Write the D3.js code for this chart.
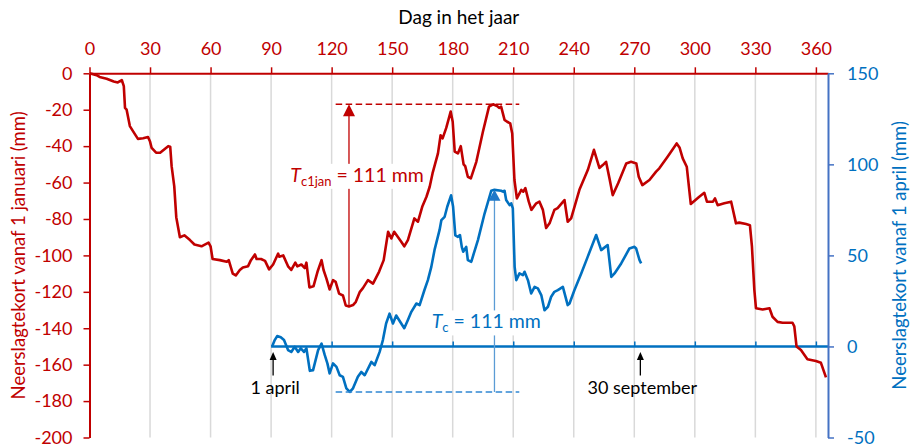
<!DOCTYPE html>
<html>
<head>
<meta charset="utf-8">
<script src="https://cdn.jsdelivr.net/npm/d3@7"></script>
<style>
  body { margin: 0; background: #fff; }
  svg { display: block; font-family: Lato, "Open Sans", sans-serif; }
</style>
</head>
<body>
<svg id="chart" width="912" height="447"></svg>
<script>
// Axis ticks
const xTicks = [0, 30, 60, 90, 120, 150, 180, 210, 240, 270, 300, 330, 360];
const leftTicks = [0, -20, -40, -60, -80, -100, -120, -140, -160, -180, -200];
const rightTicks = [150, 100, 50, 0, -50];

// Cumulative precipitation deficit since 1 January (mm), by day of year
const redDays = [0, 3.5, 5, 8.5, 12, 14, 16, 17, 17.6, 18.4, 20, 21.7, 24, 26.6, 29, 30, 30.8, 33, 35, 39, 40, 40.7, 42, 43, 44.8, 47, 49.8, 52, 55.5, 59, 60, 61, 64.6, 68, 69, 71, 72.5, 74.5, 76, 78.6, 80, 82, 82.8, 85, 87, 89, 91, 93.5, 94, 96, 98.4, 100, 102, 103, 105, 106.7, 107.5, 109, 111, 113, 115, 116, 117.4, 119, 120.7, 122, 123.7, 125.6, 127, 128.6, 130.6, 132, 134, 135.5, 138, 140.5, 143.5, 145.8, 148, 149.6, 151, 154.5, 156, 157.8, 161, 162.8, 165, 167, 168.6, 170, 172.7, 174, 175, 176.8, 179, 180, 181, 182.6, 184, 185.4, 186.2, 187.5, 189, 191.7, 195, 198, 200, 202, 203, 204, 205.7, 207, 208.5, 209.5, 210.6, 211.8, 214, 215, 216, 217.7, 219, 221.4, 223, 224.7, 226.3, 228, 230.4, 232, 234, 235.4, 237, 238.7, 242.8, 247, 250, 252.7, 254.4, 256, 257.7, 259.3, 262, 266, 268.4, 271, 272.2, 274, 277.5, 280.8, 282.4, 286.5, 289.9, 291, 292.4, 294, 296, 298, 302.2, 304.7, 306, 309, 310, 311.3, 314.6, 318, 320.4, 322, 325.4, 327.3, 328.3, 329.5, 330.3, 333.6, 337, 338.5, 341, 343.5, 348.4, 349.3, 350.4, 352.6, 355.8, 360, 362.5, 365];
const redVals = [0, -1, -2, -3, -4.5, -5, -3.7, -7, -19, -20, -29, -32, -36, -35.7, -35, -37.5, -41, -43.6, -43.6, -40, -40.3, -51, -62, -79, -90, -89, -91.6, -94, -95, -93, -95, -102, -102.6, -103.5, -102.6, -110, -111, -108, -106.6, -105.9, -102.6, -99.5, -102, -102, -103, -107.7, -105, -99, -100.7, -100, -106, -108, -104, -106, -105, -107, -104, -117.6, -117, -109, -102.6, -108, -112.6, -118.7, -113.6, -114.5, -121, -122, -127.5, -128, -127.3, -125.5, -120, -118, -113.6, -115.5, -109, -102.6, -87, -90.7, -87, -92.5, -95, -91.6, -79.7, -81.5, -73, -67.8, -62.3, -55, -44, -34, -35.7, -30, -21, -26.6, -43, -44, -40, -50, -51, -56.8, -57.7, -48.6, -32, -18.3, -17, -18, -19, -18.3, -25.6, -26.6, -27.5, -33, -58.6, -68.7, -64, -65, -63, -70.5, -75, -71.4, -70.5, -75, -85, -82.4, -75, -74, -71.4, -69.6, -81.5, -79.7, -64, -53, -42, -52, -50.4, -48.6, -57.7, -66.9, -60.4, -49.5, -48.6, -49.5, -56.8, -61.4, -58.6, -54, -52.2, -45.8, -40.3, -38.5, -40.7, -46.7, -51.3, -71.8, -67.8, -65.6, -70.5, -70.5, -68.7, -72.4, -71.4, -70.5, -82.4, -82, -82.8, -83.4, -95, -119, -129, -129.7, -129, -133.7, -136.5, -137, -137, -139, -150, -152, -157, -158, -159, -167];

// Cumulative precipitation deficit since 1 April (mm), by day of year
const blueDays = [90.5, 91.8, 93, 94.8, 96.4, 98.4, 100, 101.7, 103.4, 104.7, 106.3, 107.5, 109.2, 110.8, 113.3, 115, 116.6, 117.9, 119, 120.7, 122.4, 124, 125.6, 127.3, 129, 130.6, 133, 134.7, 136.4, 139.7, 141.3, 143.8, 145.4, 147, 148.7, 150.4, 152, 154.5, 156, 157.8, 159.5, 162, 163.6, 166, 167.7, 169.4, 171, 173.5, 174.4, 176, 177.3, 179.2, 180.2, 181.3, 182.6, 183.6, 184.5, 185.2, 186.7, 187.5, 189.2, 192.5, 195.8, 199.1, 200.7, 204, 204.9, 205.7, 206.5, 208.2, 209, 209.8, 210.7, 211.5, 213.1, 214.8, 215.6, 217.3, 218.9, 220.6, 222.2, 223.9, 225.5, 227.2, 228.8, 230.4, 232.1, 234.6, 237, 237.9, 240.3, 243.7, 246.9, 251.1, 253.6, 256.8, 258.6, 260.2, 263.5, 267.6, 270.1, 270.9, 272.6, 273.4];
const blueVals = [0, 3.5, 5.7, 5, 3.5, -2, -3, -0.2, -3, -1, -3, -1, -13.4, -13, -2, 1.6, -4.8, -9.3, -14.8, -9.3, -11.2, -15.8, -16.7, -23, -25, -23, -16.7, -14, -15.8, -8.5, -10.3, -3, 3.5, 12.6, 18, 12.6, 17, 12.6, 10, 14.5, 19, 23.6, 22.7, 31, 36.4, 43.7, 53, 64, 69.4, 71.2, 76.7, 83, 76.7, 61, 60.2, 61.2, 54.7, 52, 54.7, 47.4, 46.5, 58.4, 73, 85.5, 86, 85.5, 85, 85.5, 80.4, 77.6, 78.6, 75.8, 43.7, 36.4, 40.1, 39.2, 41, 36.4, 29.1, 32.7, 31.9, 28.2, 19.9, 21.8, 27.3, 30, 30.9, 32.7, 22.7, 23.6, 30.9, 40.1, 49.2, 61.2, 52.9, 55.7, 38.2, 40.1, 45.6, 53.8, 54.7, 53.8, 47.4, 45.6];

// Growing season window (days of year)
const startApril = 91;     // 1 april
const endSeptember = 273;  // 30 september
const spanFrom = 122, spanTo = 213;

const RED = "#C00000", BLUE = "#0070C0", AXISBLUE = "#4472C4", GRID = "#d9d9d9";

const svg = d3.select("#chart");
const plot = { left: 89.5, right: 828, top: 73.3, bottom: 437.5 };

const x = d3.scaleLinear().domain([0, 366]).range([plot.left, plot.right]);
const yL = d3.scaleLinear().domain([-200, 0]).range([plot.bottom, plot.top]);
const yR = d3.scaleLinear().domain([-50, 150]).range([plot.bottom, plot.top]);

const red = redDays.map((d, i) => ({ day: d, val: redVals[i] }));
const blue = blueDays.map((d, i) => ({ day: d, val: blueVals[i] }));

// vertical gridlines
svg.append("g").selectAll("line")
  .data(xTicks.filter(t => t > 0))
  .join("line")
  .attr("x1", d => x(d)).attr("x2", d => x(d))
  .attr("y1", plot.top).attr("y2", plot.bottom)
  .attr("stroke", GRID).attr("stroke-width", 1.5);

// zero line of the April series, with its own tick marks
const zeroY = yR(0);
svg.append("line")
  .attr("x1", x(90)).attr("x2", plot.right)
  .attr("y1", zeroY).attr("y2", zeroY)
  .attr("stroke", BLUE).attr("stroke-width", 2.5);
const zeroAxis = svg.append("g")
  .attr("transform", `translate(0,${zeroY})`)
  .call(d3.axisTop(x).tickValues(xTicks.filter(t => t >= 120)).tickSize(5).tickFormat(""));
zeroAxis.select(".domain").remove();
zeroAxis.selectAll(".tick line").attr("stroke", BLUE).attr("stroke-width", 1.5);

// series
const lineL = d3.line().x(d => x(d.day)).y(d => yL(d.val));
const lineR = d3.line().x(d => x(d.day)).y(d => yR(d.val));
svg.append("path").datum(red).attr("d", lineL)
  .attr("fill", "none").attr("stroke", RED).attr("stroke-width", 2.6).attr("stroke-linejoin", "round");
svg.append("path").datum(blue).attr("d", lineR)
  .attr("fill", "none").attr("stroke", BLUE).attr("stroke-width", 2.6).attr("stroke-linejoin", "round");

// largest rise within the season
const season = red.filter(d => d.day >= startApril && d.day <= endSeptember);
const redMinPt = season.reduce((a, b) => (b.val < a.val ? b : a));
const redMaxPt = season.reduce((a, b) => (b.val > a.val ? b : a));
const blueMinPt = blue.reduce((a, b) => (b.val < a.val ? b : a));
const blueMaxPt = blue.reduce((a, b) => (b.val > a.val ? b : a));

function arrowHead(g, cx, tipY, color, w, h) {
  g.append("path")
    .attr("d", `M${cx},${tipY} L${cx - w / 2},${tipY + h} L${cx + w / 2},${tipY + h} Z`)
    .attr("fill", color);
}

const ann = svg.append("g");
// red span
ann.append("line")
  .attr("x1", x(spanFrom)).attr("x2", x(spanTo))
  .attr("y1", yL(redMaxPt.val)).attr("y2", yL(redMaxPt.val))
  .attr("stroke", RED).attr("stroke-width", 1.5).attr("stroke-dasharray", "6.5,3.5");
ann.append("line")
  .attr("x1", x(redMinPt.day)).attr("x2", x(redMinPt.day))
  .attr("y1", yL(redMinPt.val)).attr("y2", yL(redMaxPt.val) + 10)
  .attr("stroke", RED).attr("stroke-width", 1.3);
arrowHead(ann, x(redMinPt.day), yL(redMaxPt.val), RED, 12, 12);

// blue span
ann.append("line")
  .attr("x1", x(spanFrom)).attr("x2", x(spanTo))
  .attr("y1", yR(blueMinPt.val)).attr("y2", yR(blueMinPt.val))
  .attr("stroke", "#2f86d2").attr("stroke-width", 1.5).attr("stroke-dasharray", "6.5,3.5");
ann.append("line")
  .attr("x1", x(blueMaxPt.day)).attr("x2", x(blueMaxPt.day))
  .attr("y1", yR(blueMinPt.val)).attr("y2", yR(blueMaxPt.val) + 10)
  .attr("stroke", "#5b9bd5").attr("stroke-width", 1.3);
arrowHead(ann, x(blueMaxPt.day), yR(blueMaxPt.val), "#1f78c8", 12, 11);

// span labels with white backing
function spanLabel(px, py, sub, value, color) {
  const g = svg.append("g");
  const bg = g.append("rect").attr("fill", "#fff");
  const t = g.append("text").attr("x", px).attr("y", py)
    .attr("fill", color).attr("font-size", 19.5);
  t.append("tspan").attr("font-style", "italic").text("T");
  t.append("tspan").attr("font-size", 13).attr("dy", 4).text(sub);
  t.append("tspan").attr("dy", -4).text(` = ${value} mm`);
  const b = t.node().getBBox();
  bg.attr("x", b.x - 2).attr("y", b.y + 1).attr("width", b.width + 4).attr("height", b.height - 1);
}
spanLabel(x(99.5), yL(-59.6), "c1jan", Math.round(redMaxPt.val - redMinPt.val), RED);
spanLabel(x(169.6), yR(9.9), "c", Math.round(blueMaxPt.val - blueMinPt.val), BLUE);

// date markers on the zero line
function dateMarker(day, label) {
  const cx = x(day);
  svg.append("line").attr("x1", cx).attr("x2", cx)
    .attr("y1", yR(-16)).attr("y2", yR(-3) + 6)
    .attr("stroke", "#000").attr("stroke-width", 1.3);
  arrowHead(svg, cx, yR(-3), "#000", 7, 8);
  svg.append("text").attr("x", cx + 2).attr("y", yR(-26.2))
    .attr("text-anchor", "middle").attr("font-size", 18).attr("fill", "#000").text(label);
}
dateMarker(startApril, "1 april");
dateMarker(endSeptember, "30 september");

// axes
const fmt = d => String(d);
const topAxis = svg.append("g").attr("transform", `translate(0,${plot.top})`)
  .call(d3.axisTop(x).tickValues(xTicks).tickSize(6).tickSizeOuter(0).tickPadding(12).tickFormat(fmt));
topAxis.select(".domain").attr("stroke", RED).attr("stroke-width", 2);
topAxis.selectAll(".tick line").attr("stroke", RED).attr("stroke-width", 1.5);
topAxis.selectAll(".tick text").attr("fill", RED).attr("font-size", 18).attr("font-family", "Lato, sans-serif");

const leftAxis = svg.append("g").attr("transform", `translate(${plot.left},0)`)
  .call(d3.axisLeft(yL).tickValues(leftTicks).tickSize(6).tickSizeOuter(0).tickPadding(11).tickFormat(fmt));
leftAxis.select(".domain").attr("stroke", RED).attr("stroke-width", 2);
leftAxis.selectAll(".tick line").attr("stroke", RED).attr("stroke-width", 1.5);
leftAxis.selectAll(".tick text").attr("fill", RED).attr("font-size", 18).attr("font-family", "Lato, sans-serif");

const rightAxis = svg.append("g").attr("transform", `translate(${plot.right},0)`)
  .call(d3.axisRight(yR).tickValues(rightTicks).tickSize(6).tickSizeOuter(0).tickPadding(13).tickFormat(fmt));
rightAxis.select(".domain").attr("stroke", AXISBLUE).attr("stroke-width", 2);
rightAxis.selectAll(".tick line").attr("stroke", AXISBLUE).attr("stroke-width", 1.5);
rightAxis.selectAll(".tick text").attr("fill", BLUE).attr("font-size", 18).attr("font-family", "Lato, sans-serif");

// titles
svg.append("text").attr("x", (plot.left + plot.right) / 2).attr("y", 24)
  .attr("text-anchor", "middle").attr("font-size", 19).attr("fill", "#000").text("Dag in het jaar");
svg.append("text")
  .attr("transform", `translate(25,${(plot.top + plot.bottom) / 2}) rotate(-90)`)
  .attr("text-anchor", "middle").attr("font-size", 18.5).attr("fill", RED)
  .text("Neerslagtekort vanaf 1 januari (mm)");
svg.append("text")
  .attr("transform", `translate(906,${(plot.top + plot.bottom) / 2}) rotate(-90)`)
  .attr("text-anchor", "middle").attr("font-size", 18.5).attr("fill", BLUE)
  .text("Neerslagtekort vanaf 1 april (mm)");
</script>
</body>
</html>
